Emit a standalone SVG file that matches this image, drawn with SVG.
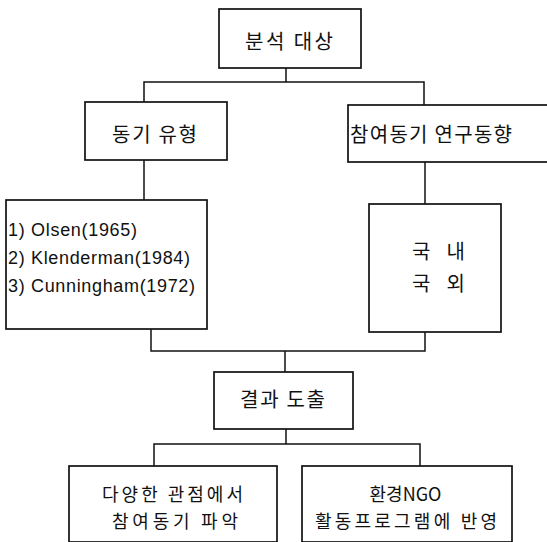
<svg xmlns="http://www.w3.org/2000/svg" width="547" height="542" viewBox="0 0 547 542">
<style>
.box{fill:#fff;stroke:#111;stroke-width:1.7}
.ln{fill:none;stroke:#111;stroke-width:1.5}
.k{font-family:"Noto Sans CJK KR","Noto Sans",sans-serif;font-size:20px;fill:#111}
.ks{font-family:"Noto Sans CJK KR","Noto Sans",sans-serif;font-size:18px;fill:#111}
.l{font-family:"Liberation Sans",Arial,sans-serif;font-size:18px;fill:#111}
</style>
<rect width="547" height="542" fill="#fff"/>
<g id="connectors">
<polyline class="ln" points="286,68 286,82"/>
<polyline class="ln" points="144,102 144,82 424,82 424,105"/>
<polyline class="ln" points="144,160 144,200"/>
<polyline class="ln" points="425,162 425,204"/>
<polyline class="ln" points="151,329 151,351 425,351 425,332"/>
<polyline class="ln" points="285,351 285,372"/>
<polyline class="ln" points="286,429 286,444"/>
<polyline class="ln" points="154,466 154,444 420,444 420,466"/>
</g>
<g id="n1"><rect class="box" x="219" y="9" width="142" height="59"/><text class="k" x="289" y="49" text-anchor="middle" textLength="88">분석 대상</text></g>
<g id="n2"><rect class="box" x="85" y="102" width="142" height="58"/><text class="k" x="154.5" y="142" text-anchor="middle" textLength="85">동기 유형</text></g>
<g id="n3"><rect class="box" x="348" y="105" width="210" height="57"/><text class="k" x="350" y="142" textLength="162">참여동기 연구동향</text></g>
<g id="n4"><rect class="box" x="6" y="200" width="201" height="129"/>
<text class="l" x="8" y="236" textLength="129">1) Olsen(1965)</text>
<text class="l" x="8" y="264" textLength="182">2) Klenderman(1984)</text>
<text class="l" x="8" y="292" textLength="187">3) Cunningham(1972)</text></g>
<g id="n5"><rect class="box" x="369" y="204" width="132" height="128"/>
<text class="k" x="412" y="259" textLength="53">국 내</text>
<text class="k" x="412" y="291" textLength="53">국 외</text></g>
<g id="n6"><rect class="box" x="214" y="372" width="139" height="57"/><text class="k" x="282.5" y="407" text-anchor="middle" textLength="85">결과 도출</text></g>
<g id="n7"><rect class="box" x="69" y="466" width="208" height="76"/>
<text class="ks" x="172.5" y="501" text-anchor="middle" textLength="141">다양한 관점에서</text>
<text class="ks" x="175" y="528" text-anchor="middle" textLength="126">참여동기 파악</text></g>
<g id="n8"><rect class="box" x="302" y="466" width="210" height="76"/>
<text class="ks" x="405.5" y="501" text-anchor="middle">환경NGO</text>
<text class="ks" x="406" y="528" text-anchor="middle" textLength="182">활동프로그램에 반영</text></g>
</svg>
